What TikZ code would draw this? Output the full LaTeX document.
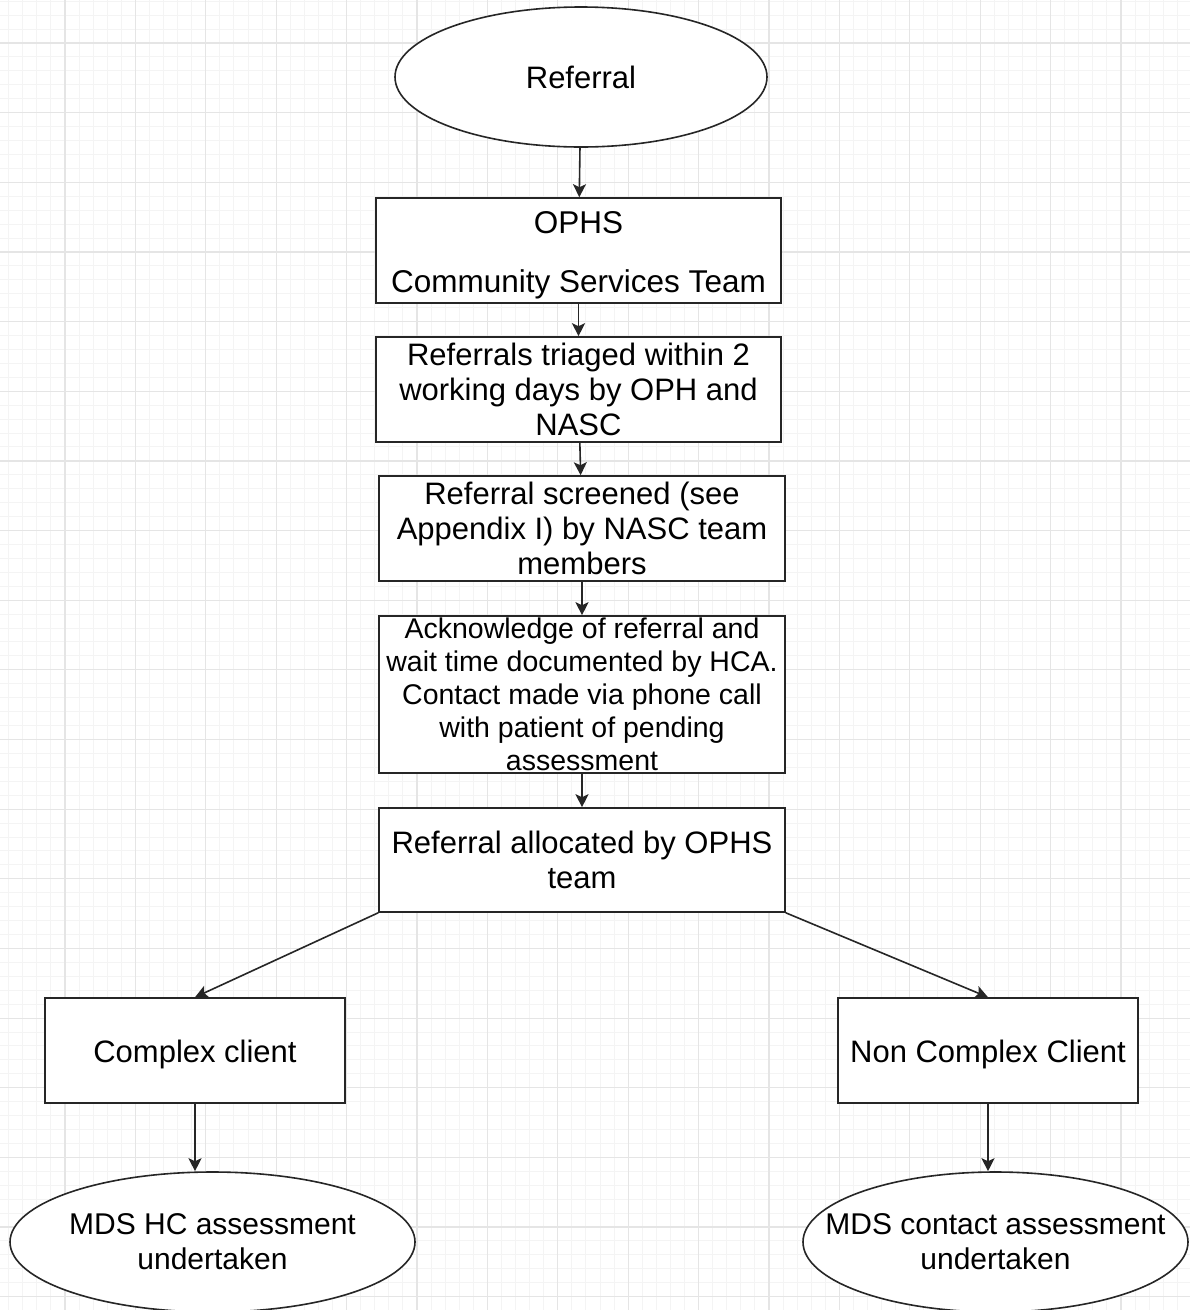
\documentclass[tikz,border=0pt]{standalone}
\usepackage{fontspec}
\setmainfont{Liberation Sans}
\usetikzlibrary{shapes.geometric,arrows.meta}

\begin{document}
\begin{tikzpicture}[
      x=1pt, y=-1pt,
      font=\fontsize{31pt}{35pt}\selectfont,
      box/.style={draw=black!85, line width=1.6pt, fill=white, align=center,
                  minimum width=406pt, minimum height=105pt, inner sep=0pt},
      terminal/.style={ellipse, draw=black!85, line width=1.6pt, fill=white,
                  align=center, minimum height=140pt, inner xsep=-80pt,
                  inner ysep=0pt},
      flow/.style={draw=black!85, line width=1.6pt,
                  -{Stealth[length=13pt, width=13pt, inset=3pt]}},
      minorgrid/.style={draw=gray!9, line width=1pt},
      majorgrid/.style={draw=gray!20, line width=1.2pt}
    ]
    \useasboundingbox[fill=white] (0,0) rectangle (1190,1310);

    % Background grid.
    \foreach \i in {-4,...,79}
      \draw[minorgrid] ({65+14.08*\i},0) -- ({65+14.08*\i},1310);
    \foreach \j in {-3,...,90}
      \draw[minorgrid] (0,{43+13.93*\j}) -- (1190,{43+13.93*\j});
    \foreach \i in {0,...,15}
      \draw[majorgrid] ({65+70.4*\i},0) -- ({65+70.4*\i},1310);
    \foreach \j in {0,...,18}
      \draw[majorgrid] (0,{43+69.65*\j}) -- (1190,{43+69.65*\j});

    % Main column.
    \node[terminal, minimum width=372pt] (referral) at (581,77) {Referral};
    \node[box, minimum width=405pt, font=\fontsize{31.5pt}{35pt}\selectfont]
      (ophs) at (578.5,250.5)
      {\rule{0pt}{32pt}OPHS\\[24pt]Community Services Team};
    \node[box, minimum width=405pt] (triage) at (578.5,389.5)
      {Referrals triaged within 2\\working days by OPH and\\NASC};
    \node[box] (screen) at (582,528.5)
      {Referral screened (see\\Appendix I) by NASC team\\members};
    \node[box, minimum height=157pt, font=\fontsize{28.5pt}{33pt}\selectfont]
      (acknowledge) at (582,694.5)
      {Acknowledge of referral and\\wait time documented by HCA.\\Contact made via phone call\\with patient of pending\\assessment};
    \node[box, minimum height=104pt] (allocated) at (582,860)
      {Referral allocated by OPHS\\team};

    % Two branches.
    \node[box, minimum width=300pt] (complex) at (195,1050.5)
      {\rule{0pt}{30pt}Complex client};
    \node[box, minimum width=300pt] (noncomplex) at (988,1050.5)
      {\rule{0pt}{30pt}Non Complex Client};
    \node[terminal, minimum width=405pt, font=\fontsize{30pt}{35pt}\selectfont]
      (mdshc) at (212.5,1242) {MDS HC assessment\\undertaken};
    \node[terminal, minimum width=385pt, font=\fontsize{30pt}{35pt}\selectfont]
      (mdscontact) at (995.5,1242) {MDS contact assessment\\undertaken};

    \draw[flow] (referral) -- (ophs);
    \draw[flow] (ophs) -- (triage);
    \draw[flow] (triage) -- (screen);
    \draw[flow] (screen) -- (acknowledge);
    \draw[flow] (acknowledge) -- (allocated);
    \draw[flow] (allocated.south west) -- (complex.north);
    \draw[flow] (allocated.south east) -- (noncomplex.north);
    \draw[flow] (complex.south) -- (complex.south |- mdshc.north);
    \draw[flow] (noncomplex.south) -- (noncomplex.south |- mdscontact.north);
  \end{tikzpicture}
\end{document}
